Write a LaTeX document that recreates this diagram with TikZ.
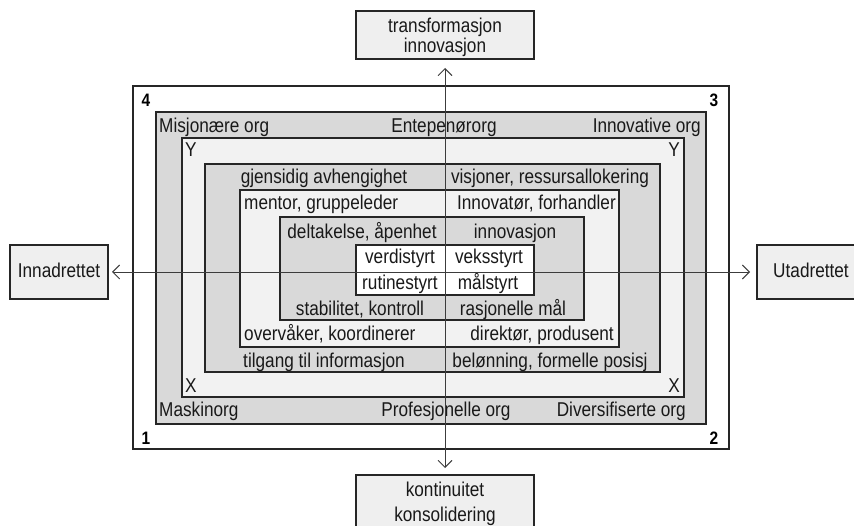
\documentclass[tikz,border=0pt]{standalone}
\usepackage{fontspec}
\setmainfont[FakeStretch=0.86]{Liberation Sans}
\usetikzlibrary{arrows.meta}
\definecolor{midgray}{RGB}{217,217,217}
\definecolor{lightgray}{RGB}{242,242,242}
\definecolor{sidegray}{RGB}{239,239,239}
\definecolor{axisgray}{RGB}{60,60,60}
\begin{document}
\begin{tikzpicture}[x=1pt,y=-1pt,
  frame/.style={draw=black!85,line width=1.1pt,inner sep=0pt,outer sep=0pt,anchor=north west},
  gframe/.style={frame,fill=midgray},
  lframe/.style={frame,fill=lightgray},
  sidebox/.style={frame,fill=sidegray},
  lbl/.style={inner sep=0pt,anchor=base,font=\fontsize{20}{21}\selectfont,text=black!90},
  lblw/.style={lbl,anchor=base west},
  lble/.style={lbl,anchor=base east},
  num/.style={inner sep=0pt,anchor=base,font=\fontsize{18}{19}\selectfont\bfseries},
  axis/.style={draw=axisgray,line width=0.9pt,{Straight Barb[length=7pt,width=14pt]}-{Straight Barb[length=7pt,width=14pt]}}
]
\useasboundingbox (0,0) rectangle (854,526);
\fill[white] (0,0) rectangle (854,526);

% nested frames
\node[frame,fill=white,minimum width=596pt,minimum height=363pt] (outer) at (133,86) {};
\node[gframe,minimum width=550pt,minimum height=312pt] (ring1) at (156,112) {};
\node[lframe,minimum width=502pt,minimum height=259pt] (ring2) at (182,138) {};
\node[gframe,minimum width=455pt,minimum height=208pt] (ring3) at (205,164) {};
\node[lframe,minimum width=379pt,minimum height=157pt] (ring4) at (240,190) {};
\node[gframe,minimum width=304pt,minimum height=103pt] (ring5) at (280,217) {};
\node[frame,fill=white,line width=1.4pt,minimum width=178pt,minimum height=50pt] (core) at (356,245) {};

% outer boxes at the ends of the axes
\node[sidebox,minimum width=178pt,minimum height=48pt] (top) at (356,11) {};
\node[sidebox,minimum width=178pt,minimum height=60pt] (bottom) at (356,475) {};
\node[sidebox,minimum width=98pt,minimum height=54pt] (left) at (10,245) {};
\node[sidebox,minimum width=108pt,minimum height=54pt] (right) at (757,245) {};

\node[lbl] (t1) at (445,33) {transformasjon};
\node[lbl] (t2) at (445,53) {innovasjon};
\node[lbl] (b1) at (445,496) {kontinuitet};
\node[lbl] (b2) at (445,521) {konsolidering};
\node[lbl] (l1) at (59,278) {Innadrettet};
\node[lbl] (r1) at (811,278) {Utadrettet};

% corner numbers
\node[num] (n4) at (146,107) {4};
\node[num] (n3) at (714,107) {3};
\node[num] (n1) at (146,444) {1};
\node[num] (n2) at (714,444) {2};

% organisation types
\node[lblw] (o1) at (159,133) {Misjonære org};
\node[lbl]  (o2) at (444,133) {Entepenørorg};
\node[lble] (o3) at (701,133) {Innovative org};
\node[lblw] (o4) at (159,417) {Maskinorg};
\node[lbl]  (o5) at (446,417) {Profesjonelle org};
\node[lble] (o6) at (686,417) {Diversifiserte org};

\node[lblw] (y1) at (185,157) {Y};
\node[lble] (y2) at (680,157) {Y};
\node[lblw] (x1) at (185,392) {X};
\node[lble] (x2) at (680,392) {X};

% ring texts
\node[lbl] (a1) at (324,184) {gjensidig avhengighet};
\node[lbl] (a2) at (550,184) {visjoner, ressursallokering};
\node[lblw] (a3) at (244,210) {mentor, gruppeleder};
\node[lble] (a4) at (616,210) {Innovatør, forhandler};
\node[lbl] (a5) at (362,239) {deltakelse, åpenhet};
\node[lbl] (a6) at (515,239) {innovasjon};
\node[lbl] (c1) at (400,264) {verdistyrt};
\node[lbl] (c2) at (489,264) {veksstyrt};
\node[lbl] (c3) at (400,290) {rutinestyrt};
\node[lbl] (c4) at (488,290) {målstyrt};
\node[lbl] (a7) at (360,316) {stabilitet, kontroll};
\node[lbl] (a8) at (513,316) {rasjonelle mål};
\node[lblw] (a9) at (244,341) {overvåker, koordinerer};
\node[lble] (a10) at (614,341) {direktør, produsent};
\node[lbl] (a11) at (324,368) {tilgang til informasjon};
\node[lbl] (a12) at (550,368) {belønning, formelle posisj};

% axes
\draw[axis,shorten <=7pt,shorten >=9pt] (bottom.north) -- (top.south);
\draw[axis,shorten <=4pt,shorten >=7pt] (left.east) -- (right.west);
\end{tikzpicture}
\end{document}
